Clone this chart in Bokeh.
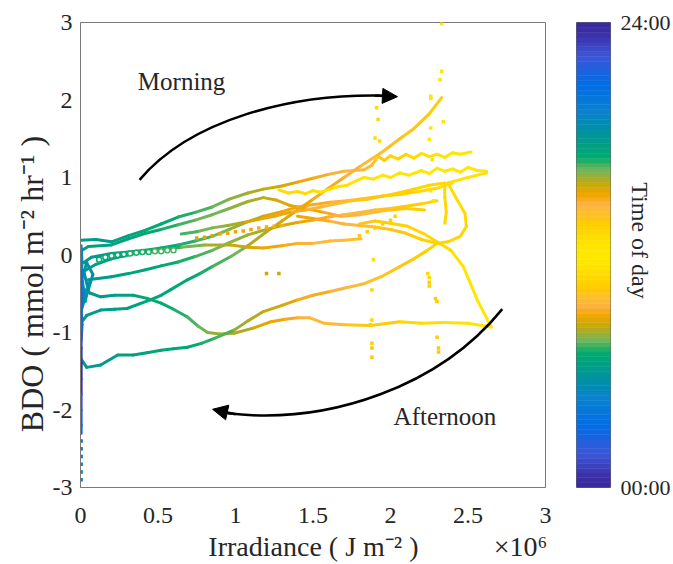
import numpy as np
from bokeh.plotting import figure
from bokeh.models import (Range1d, Label, Arrow, NormalHead, FixedTicker, ColumnDataSource,
                          LinearAxis)
from bokeh.layouts import row
from bokeh.transform import linear_cmap
from bokeh.embed import file_html
from bokeh.resources import INLINE

SERIF = "Liberation Serif"
INK = "#262626"

# ---------------------------------------------------------------------------
# Daily trajectories: irradiance (x 10^6 J m^-2), BDO (mmol m^-2 hr^-1), hour
# ---------------------------------------------------------------------------
irr_a = [0.00, 0.10, 0.20, 0.31, 0.42, 0.52, 0.63, 0.74, 0.85, 0.96, 1.08, 1.18, 1.30,
         1.40, 1.50, 1.60, 1.70, 1.83, 1.88, 1.92, 1.96, 2.00, 2.05, 2.10, 2.15, 2.20,
         2.25, 2.30, 2.35, 2.40, 2.45, 2.52]
bdo_a = [0.19, 0.20, 0.17, 0.25, 0.32, 0.40, 0.49, 0.55, 0.62, 0.72, 0.80, 0.85, 0.89,
         0.94, 0.99, 1.04, 1.08, 1.10, 1.16, 1.27, 1.22, 1.28, 1.24, 1.30, 1.25, 1.31,
         1.27, 1.30, 1.26, 1.32, 1.30, 1.33]
hr_a = [6.0, 6.2, 6.4, 6.6, 6.8, 7.0, 7.2, 7.4, 7.6, 7.9, 8.2, 8.4, 8.7,
        8.9, 9.1, 9.3, 9.5, 9.7, 9.9, 10.1, 10.3, 10.5, 10.7, 10.9, 11.1, 11.3,
        11.4, 11.5, 11.6, 11.7, 11.8, 12.0]

irr_b = [0.00, 0.05, 0.20, 0.31, 0.42, 0.52, 0.63, 0.74, 0.85, 0.96, 1.08, 1.18, 1.26,
         1.35, 1.45, 1.57, 1.68, 1.80, 1.95, 2.10, 2.22]
bdo_b = [0.05, 0.11, 0.13, 0.21, 0.28, 0.33, 0.39, 0.45, 0.52, 0.60, 0.69, 0.74, 0.71,
         0.64, 0.60, 0.55, 0.50, 0.52, 0.57, 0.60, 0.58]
hr_b = [6.1, 6.3, 6.5, 6.7, 6.9, 7.1, 7.3, 7.5, 7.7, 7.9, 8.1, 8.3, 8.5,
        8.7, 8.9, 9.1, 9.3, 9.6, 10.0, 10.4, 10.8]

irr_c = [0.02, 0.07, 0.20, 0.31, 0.42, 0.52, 0.63, 0.74, 0.85, 0.96, 1.08, 1.18, 1.30,
         1.40, 1.50, 1.61, 1.72, 1.83, 1.95, 2.06, 2.18, 2.30, 2.40]
bdo_c = [-0.10, -0.03, 0.02, 0.04, 0.06, 0.09, 0.13, 0.18, 0.24, 0.33, 0.43, 0.50, 0.56,
         0.62, 0.65, 0.68, 0.70, 0.73, 0.76, 0.78, 0.82, 0.86, 0.93]
hr_c = [6.0, 6.2, 6.4, 6.6, 6.8, 7.0, 7.2, 7.4, 7.6, 7.9, 8.2, 8.5, 8.8,
        9.0, 9.2, 9.4, 9.7, 10.0, 10.3, 10.6, 10.9, 11.2, 11.5]

irr_d = [0.05, 0.20, 0.31, 0.42, 0.52, 0.63, 0.74, 0.85, 0.96, 1.08, 1.20, 1.30, 1.40,
         1.50, 1.60, 1.70, 1.80, 1.90, 2.00, 2.10, 2.20, 2.30]
bdo_d = [-0.32, -0.28, -0.24, -0.19, -0.14, -0.09, -0.02, 0.06, 0.16, 0.26, 0.33, 0.38, 0.42,
         0.45, 0.49, 0.52, 0.55, 0.58, 0.60, 0.63, 0.66, 0.70]
hr_d = [6.0, 6.3, 6.5, 6.7, 6.9, 7.1, 7.3, 7.5, 7.8, 8.1, 8.4, 8.7, 8.9,
        9.1, 9.3, 9.5, 9.7, 9.9, 10.1, 10.3, 10.5, 10.7]

irr_e = [0.00, 0.04, 0.13, 0.22, 0.30, 0.38, 0.45, 0.52, 0.58, 0.69, 0.77, 0.85, 0.97,
         1.08, 1.20, 1.30, 1.40, 1.50, 1.60, 1.70, 1.80, 1.94, 2.06, 2.15, 2.25, 2.33]
bdo_e = [-0.88, -0.78, -0.71, -0.70, -0.69, -0.63, -0.58, -0.52, -0.45, -0.32, -0.24, -0.15, -0.02,
         0.12, 0.30, 0.44, 0.58, 0.72, 0.86, 1.00, 1.14, 1.32, 1.50, 1.63, 1.82, 2.03]
hr_e = [6.0, 6.1, 6.2, 6.3, 6.4, 6.5, 6.6, 6.7, 6.8, 7.0, 7.2, 7.4, 7.7,
        8.0, 8.3, 8.6, 8.8, 9.0, 9.2, 9.4, 9.6, 9.8, 10.0, 10.2, 10.4, 10.6]

irr_f = [0.00, 0.06, 0.13, 0.22, 0.34, 0.43, 0.52, 0.60, 0.69, 0.76, 0.82, 0.90, 0.99,
         1.12, 1.23, 1.32, 1.40, 1.48, 1.57, 1.70, 1.87, 2.06, 2.20, 2.35, 2.50, 2.65,
         2.56, 2.47, 2.39, 2.30, 2.21, 2.11, 2.00, 1.90, 1.80]
bdo_f = [-0.41, -0.49, -0.54, -0.52, -0.52, -0.56, -0.62, -0.70, -0.80, -0.92, -1.00, -1.02, -1.01,
         -0.94, -0.86, -0.83, -0.81, -0.81, -0.88, -0.90, -0.91, -0.86, -0.88, -0.87, -0.88, -0.93,
         -0.58, -0.15, 0.06, 0.17, 0.28, 0.37, 0.41, 0.44, 0.40]
hr_f = [6.0, 6.1, 6.2, 6.4, 6.6, 6.8, 7.0, 7.2, 7.4, 7.6, 7.8, 8.0, 8.2,
        8.6, 8.9, 9.1, 9.3, 9.5, 9.7, 10.0, 10.4, 10.8, 11.1, 11.4, 11.7, 12.0,
        12.3, 12.6, 12.8, 13.0, 13.2, 13.4, 13.6, 13.8, 14.0]

irr_g = [0.00, 0.04, 0.13, 0.24, 0.34, 0.43, 0.52, 0.60, 0.69, 0.78, 0.86, 0.99, 1.08,
         1.18, 1.30, 1.40, 1.50, 1.61, 1.72, 1.83, 1.94, 2.06, 2.15, 2.23, 2.30]
bdo_g = [-1.33, -1.45, -1.42, -1.29, -1.29, -1.26, -1.23, -1.21, -1.19, -1.14, -1.08, -0.97, -0.85,
         -0.73, -0.65, -0.58, -0.52, -0.47, -0.42, -0.37, -0.28, -0.15, -0.05, 0.05, 0.15]
hr_g = [6.0, 6.1, 6.2, 6.3, 6.4, 6.5, 6.6, 6.8, 7.0, 7.2, 7.4, 7.8, 8.1,
        8.4, 8.7, 9.0, 9.2, 9.4, 9.6, 9.8, 10.0, 10.2, 10.4, 10.6, 10.8]

irr_h = [0.03, 0.10, 0.20, 0.35, 0.50, 0.65, 0.80, 0.97, 1.08, 1.18, 1.30, 1.40, 1.50,
         1.61, 1.70, 1.81]
bdo_h = [-0.20, -0.12, -0.05, 0.02, 0.06, 0.10, 0.13, 0.13, 0.10, 0.09, 0.12, 0.15, 0.15,
         0.18, 0.19, 0.21]
hr_h = [6.2, 6.4, 6.6, 6.9, 7.2, 7.6, 8.0, 8.4, 8.7, 8.9, 9.1, 9.3, 9.5,
        9.7, 9.9, 10.1]

irr_i = [1.28, 1.34, 1.40, 1.45, 1.50, 1.55, 1.61, 1.66, 1.72, 1.78, 1.83, 1.89, 1.95,
         2.00, 2.06, 2.12, 2.20, 2.25, 2.30, 2.35, 2.40, 2.45, 2.50, 2.56, 2.62]
bdo_i = [0.84, 0.80, 0.82, 0.79, 0.83, 0.81, 0.85, 0.88, 0.90, 0.96, 1.00, 0.98, 1.03,
         1.00, 1.06, 1.03, 1.09, 1.05, 1.12, 1.08, 1.11, 1.07, 1.13, 1.09, 1.08]
hr_i = [11.0, 11.05, 11.1, 11.15, 11.2, 11.25, 11.3, 11.35, 11.4, 11.45, 11.5, 11.55, 11.6,
        11.65, 11.7, 11.75, 11.8, 11.85, 11.9, 11.95, 12.0, 12.1, 12.2, 12.3, 12.4]

irr_j = [2.62, 2.50, 2.37, 2.43, 2.48, 2.49, 2.45, 2.37, 2.30, 2.20, 2.10, 2.00, 1.90,
         1.80, 1.70, 1.60, 1.50, 1.40]
bdo_j = [1.06, 1.00, 0.93, 0.71, 0.54, 0.37, 0.24, 0.17, 0.15, 0.20, 0.28, 0.33, 0.36,
         0.38, 0.40, 0.44, 0.47, 0.50]
hr_j = [12.6, 12.7, 12.8, 12.9, 13.0, 13.1, 13.2, 13.3, 13.4, 13.6, 13.8, 14.0, 14.2,
        14.4, 14.6, 14.8, 15.0, 15.2]

irr_k = [2.35, 2.35, 2.36, 2.35]
bdo_k = [0.93, 0.75, 0.55, 0.41]
hr_k = [13.0, 13.1, 13.2, 13.3]

irr_l = [2.35, 2.25, 2.15, 2.05, 1.95, 1.85, 1.75, 1.65, 1.55, 1.45, 1.35, 1.25, 1.15,
         1.05, 0.95, 0.85, 0.75, 0.65]
bdo_l = [0.93, 0.90, 0.85, 0.80, 0.76, 0.72, 0.70, 0.66, 0.62, 0.58, 0.55, 0.50, 0.46,
         0.42, 0.38, 0.35, 0.30, 0.27]
hr_l = [13.0, 13.2, 13.4, 13.6, 13.8, 14.0, 14.2, 14.4, 14.6, 14.8, 15.0, 15.2, 15.5,
        15.8, 16.1, 16.4, 16.7, 17.0]

# evening / pre-dawn tangle next to zero irradiance
irr_t1 = [0.00, 0.03, 0.06, 0.03, 0.01, 0.04, 0.08, 0.05, 0.02]
bdo_t1 = [-0.75, -0.55, -0.35, -0.60, -0.30, -0.10, -0.25, -0.45, -0.20]
hr_t1 = [17.8, 17.9, 18.0, 18.1, 18.2, 18.3, 18.4, 18.5, 18.6]

irr_t2 = [0.004, 0.01, 0.004, 0.02, 0.004, 0.01, 0.004]
bdo_t2 = [0.12, -0.10, -0.30, -0.50, -0.70, -0.90, -1.10]
hr_t2 = [19.0, 19.2, 19.4, 19.6, 19.8, 20.0, 20.2]

# night-time (zero irradiance)
irr_nt = [0.004, 0.004, 0.004, 0.004, 0.004, 0.004, 0.004, 0.004, 0.004, 0.004, 0.004]
bdo_nt = [-0.20, -0.50, -0.80, -1.00, -1.20, -1.40, -1.60, -1.80, -2.00, -2.20, -2.30]
hr_nt = [20.5, 21.0, 21.5, 22.5, 23.2, 23.8, 0.5, 1.5, 2.5, 3.2, 3.8]

trajectories = [
    (irr_a, bdo_a, hr_a), (irr_b, bdo_b, hr_b), (irr_c, bdo_c, hr_c),
    (irr_d, bdo_d, hr_d), (irr_e, bdo_e, hr_e), (irr_f, bdo_f, hr_f),
    (irr_g, bdo_g, hr_g), (irr_h, bdo_h, hr_h), (irr_i, bdo_i, hr_i),
    (irr_j, bdo_j, hr_j), (irr_k, bdo_k, hr_k), (irr_l, bdo_l, hr_l),
    (irr_t1, bdo_t1, hr_t1), (irr_t2, bdo_t2, hr_t2), (irr_nt, bdo_nt, hr_nt),
]

# sparse (gappy) samples drawn as dots
dot_irr = [1.91, 1.92, 1.90, 1.93, 1.91, 1.89, 1.88, 1.88, 1.87, 1.88, 1.88, 1.88,
           2.33, 2.33, 2.32, 2.26, 2.26, 2.34, 2.26, 2.25, 2.27, 2.26, 2.28, 2.24,
           2.25, 2.25, 2.25, 2.29, 2.30, 2.30, 2.31, 2.31,
           0.75, 0.80, 0.85, 0.90, 0.95, 1.00, 1.05, 1.10, 1.15, 1.20, 1.25, 1.30,
           1.80, 1.85, 1.90, 1.95, 2.00, 2.03, 1.20, 1.28,
           0.004, 0.004, 0.004, 0.004, 0.004, 0.004]
dot_bdo = [1.90, 1.75, 1.51, 1.47, 1.25, -0.06, -0.45, -0.84, -0.90, -1.14, -1.20, -1.32,
           2.99, 2.37, 2.26, 2.05, 2.02, 1.72, 1.64, 1.49, 1.23, 0.83, 0.70, -0.24,
           -0.29, -0.35, -0.40, -0.56, -0.60, -1.06, -1.20, -1.25,
           0.22, 0.23, 0.25, 0.27, 0.28, 0.30, 0.31, 0.33, 0.35, 0.36, 0.37, 0.38,
           0.25, 0.30, 0.35, 0.40, 0.45, 0.50, -0.24, -0.24,
           -2.40, -2.50, -2.60, -2.70, -2.80, -2.90]
dot_hr = [10.8, 10.9, 11.0, 11.1, 11.2, 12.8, 13.0, 13.2, 13.4, 13.6, 13.8, 14.0,
          11.5, 11.6, 11.7, 11.8, 11.9, 12.0, 12.1, 12.2, 12.3, 12.5, 12.7, 13.1,
          13.2, 13.3, 13.4, 13.5, 13.6, 13.7, 13.8, 13.9,
          8.6, 8.65, 8.7, 8.75, 8.8, 8.85, 8.9, 8.95, 9.0, 9.05, 9.1, 9.2,
          10.2, 10.3, 10.4, 10.5, 10.6, 10.7, 8.3, 8.4,
          3.6, 3.8, 4.0, 4.2, 4.3, 4.4]

ring_irr = [0.12, 0.16, 0.20, 0.24, 0.28, 0.32, 0.36, 0.40, 0.44, 0.48, 0.52, 0.56, 0.60]
ring_bdo = [-0.06, -0.03, -0.01, 0.00, 0.01, 0.02, 0.03, 0.04, 0.04, 0.05, 0.05, 0.06, 0.06]
ring_hr = [6.8, 6.85, 6.9, 6.95, 7.0, 7.05, 7.1, 7.15, 7.2, 7.25, 7.3, 7.35, 7.4]

x_ticks = [0, 0.5, 1, 1.5, 2, 2.5, 3]
x_tick_labels = ["0", "0.5", "1", "1.5", "2", "2.5", "3"]
y_ticks = [-3, -2, -1, 0, 1, 2, 3]
y_tick_labels = ["-3", "-2", "-1", "0", "1", "2", "3"]
cbar_ticks = [0, 24]
cbar_tick_labels = ["00:00", "24:00"]

x_title = "Irradiance ( J m\u207b\u00b2 )"
x_multiplier = "\u00d710\u2076"
y_title = "BDO ( mmol m\u207b\u00b2 hr\u207b\u00b9 )"
cbar_title = "Time of day"

# ---------------------------------------------------------------------------
# Time-of-day colour scale (symmetric about solar noon)
# ---------------------------------------------------------------------------
band_d = [0.00, 0.04, 0.135, 0.213, 0.257, 0.307, 0.365, 0.42, 0.49, 0.56, 0.615, 0.73, 0.857, 0.95, 1.00]
band_rgb = [(255, 232, 0), (255, 230, 0), (255, 205, 0), (253, 180, 70), (245, 166, 0),
            (196, 170, 12), (115, 181, 88), (0, 172, 110), (0, 155, 140), (0, 140, 176),
            (10, 130, 205), (0, 110, 230), (60, 86, 215), (60, 48, 168), (58, 40, 158)]
N_COL = 96
palette = []
for i in range(N_COL):
    hh = (i + 0.5) * 24.0 / N_COL
    dd = abs(hh - 12.0) / 12.0
    rgb = [int(round(np.interp(dd, band_d, [c[k] for c in band_rgb]))) for k in range(3)]
    palette.append("#%02x%02x%02x" % tuple(rgb))

cmap = linear_cmap("h", palette, 0, 24)


def style_axis(ax, ticks, labels, size, standoff):
    ax.ticker = FixedTicker(ticks=ticks)
    ax.major_label_overrides = {t: s for t, s in zip(ticks, labels)}
    ax.major_tick_in = 0
    ax.major_tick_out = 0
    ax.minor_tick_line_color = None
    ax.major_label_text_font = SERIF
    ax.major_label_text_font_size = size
    ax.major_label_text_color = INK
    ax.major_label_standoff = standoff


# ---------------------------------------------------------------------------
# Main panel
# ---------------------------------------------------------------------------
p = figure(width=560, height=564, x_range=Range1d(0, 3), y_range=Range1d(-3, 3),
           output_backend="svg", toolbar_location=None,
           min_border_left=80, min_border_right=15, min_border_top=22, min_border_bottom=77)
p.grid.visible = False
p.outline_line_color = "#7a7a7a"
p.background_fill_color = "white"
p.border_fill_color = "white"

seg = dict(x0=[], y0=[], x1=[], y1=[], h=[])
for xs, ys, hs in trajectories:
    for i in range(len(xs) - 1):
        seg["x0"].append(xs[i]); seg["y0"].append(ys[i])
        seg["x1"].append(xs[i + 1]); seg["y1"].append(ys[i + 1])
        seg["h"].append(hs[i])
p.segment("x0", "y0", "x1", "y1", source=ColumnDataSource(seg), line_color=cmap,
          line_width=3, line_cap="round")

p.scatter("x", "y", source=ColumnDataSource(dict(x=dot_irr, y=dot_bdo, h=dot_hr)),
          marker="square", size=3.5, fill_color=cmap, line_color=None)
p.scatter("x", "y", source=ColumnDataSource(dict(x=ring_irr, y=ring_bdo, h=ring_hr)),
          marker="circle", size=5, fill_color="white", line_color=cmap, line_width=1.5)

style_axis(p.xaxis[0], x_ticks, x_tick_labels, "24px", 20)
style_axis(p.yaxis[0], y_ticks, y_tick_labels, "24px", 8)
p.xaxis[0].axis_line_color = "#7a7a7a"
p.yaxis[0].axis_line_color = "#7a7a7a"

# axis titles as a second axis row/column so they can sit off-centre
x_title_axis = LinearAxis(axis_line_color=None)
style_axis(x_title_axis, [1.503, 2.839], [x_title, x_multiplier], "28px", 5)
p.add_layout(x_title_axis, "below")

y_title_axis = LinearAxis(axis_line_color=None, major_label_orientation="vertical")
style_axis(y_title_axis, [-0.375], [y_title], "32px", 0)
p.add_layout(y_title_axis, "left")

# morning / afternoon arrows
p.bezier(x0=[0.381], y0=[0.970], cx0=[0.710], cy0=[1.746], cx1=[1.355], cy1=[2.082],
         x1=[1.955], y1=[2.056], line_color="black", line_width=2.5)
p.add_layout(Arrow(end=NormalHead(size=15, fill_color="black", line_color="black"),
                   x_start=1.90, y_start=2.058, x_end=2.045, y_end=2.043,
                   line_color="black", line_width=2.5))
p.bezier(x0=[2.721], y0=[-0.698], cx0=[2.323], cy0=[-1.681], cx1=[1.613], cy1=[-2.198],
         x1=[0.948], y1=[-2.043], line_color="black", line_width=2.5)
p.add_layout(Arrow(end=NormalHead(size=15, fill_color="black", line_color="black"),
                   x_start=1.00, y_start=-2.055, x_end=0.852, y_end=-1.991,
                   line_color="black", line_width=2.5))

p.add_layout(Label(x=0.37, y=2.24, text="Morning", text_font=SERIF, text_font_size="25px",
                   text_color=INK, text_baseline="alphabetic"))
p.add_layout(Label(x=2.02, y=-2.09, text="Afternoon", text_font=SERIF, text_font_size="25px",
                   text_color=INK, text_baseline="alphabetic"))

# ---------------------------------------------------------------------------
# Colour bar panel
# ---------------------------------------------------------------------------
cb = figure(width=113, height=564, output_backend="svg", toolbar_location=None,
            x_range=Range1d(0, 1), y_range=Range1d(0, 24),
            x_axis_location=None, y_axis_location=None,
            min_border_left=16, min_border_right=63, min_border_top=22, min_border_bottom=77)
cb.grid.visible = False
cb.outline_line_color = "#6a6a6a"
cb.background_fill_color = "white"
cb.border_fill_color = "white"

step = 24.0 / N_COL
bottoms = [i * step for i in range(N_COL)]
tops = [(i + 1) * step for i in range(N_COL)]
cb.quad(left=0, right=1, bottom=bottoms, top=tops, fill_color=palette, line_color=palette,
        line_width=0.5)

cb_ticks_axis = LinearAxis(axis_line_color=None)
style_axis(cb_ticks_axis, cbar_ticks, cbar_tick_labels, "22px", 10)
cb.add_layout(cb_ticks_axis, "right")

cb_title_axis = LinearAxis(axis_line_color=None, major_label_orientation="vertical")
style_axis(cb_title_axis, [12.75], [cbar_title], "24px", -47)
cb.add_layout(cb_title_axis, "right")

layout = row(p, cb)
open("out.html", "w").write(file_html(layout, INLINE))
